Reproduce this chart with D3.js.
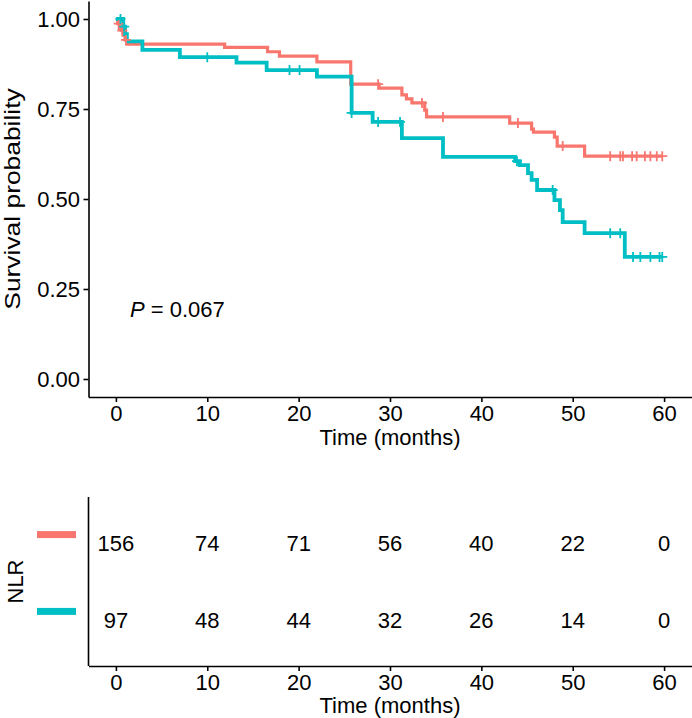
<!DOCTYPE html>
<html>
<head>
<meta charset="utf-8">
<script src="https://cdn.jsdelivr.net/npm/d3@7"></script>
<style>
  html, body { margin: 0; padding: 0; background: #fff; }
  svg { display: block; }
  text { font-family: "Liberation Sans", Arial, sans-serif; fill: #000; }
</style>
</head>
<body>
<svg id="chart" width="692" height="718"></svg>
<script>
// ---- data ----
const groups = ["high", "low"];
const groupColors = ["#F8766D", "#00BFC4"];

// Kaplan-Meier step points [time (months), survival]
const highSteps = [
  [0, 1.0], [0.2, 0.987], [0.4, 0.974], [0.6, 0.968], [0.8, 0.955], [1.0, 0.942], [1.2, 0.930],
  [11.9, 0.921], [16.6, 0.909], [17.9, 0.897], [22.0, 0.881], [25.7, 0.819],
  [28.8, 0.808], [31.3, 0.789], [31.8, 0.778], [32.4, 0.767], [33.8, 0.747], [34.0, 0.728],
  [43.1, 0.711], [45.5, 0.694], [45.7, 0.686], [48.0, 0.672], [48.3, 0.647], [51.3, 0.619]
];
const highEnd = 59.8;
const highCensor = [0.3, 0.7, 1.1, 28.7, 33.5, 35.8, 44.0, 48.9,
  54.1, 55.2, 55.5, 56.5, 57.0, 57.9, 58.5, 59.2, 59.8];

const lowSteps = [
  [0, 1.0], [0.8, 0.979], [1.0, 0.958], [1.2, 0.938], [2.9, 0.914], [7.0, 0.894],
  [13.2, 0.879], [16.5, 0.858], [22.0, 0.840], [25.8, 0.739], [28.1, 0.714],
  [31.3, 0.669], [35.8, 0.617], [43.7, 0.605], [44.2, 0.594], [45.1, 0.572],
  [45.5, 0.553], [46.1, 0.525], [48.0, 0.497], [48.6, 0.469], [48.9, 0.436],
  [51.3, 0.405], [55.7, 0.339]
];
const lowEnd = 59.8;
const lowCensor = [0.5, 0.9, 10.0, 19.0, 20.1, 25.8, 28.7, 31.1, 43.9, 47.8,
  54.1, 55.2, 56.6, 57.4, 58.5, 59.5, 59.8];

const timeTicks = [0, 10, 20, 30, 40, 50, 60];
const survTicks = [0, 0.25, 0.5, 0.75, 1.0];
const riskHigh = [156, 74, 71, 56, 40, 22, 0];
const riskLow = [97, 48, 44, 32, 26, 14, 0];
const pText = "0.067";

// ---- layout ----
const svg = d3.select("#chart");
const FS = 22;      // tick labels, numbers, titles
const FONT = '"Liberation Sans", Arial, sans-serif';
const x = d3.scaleLinear().domain([-3, 63]).range([88.5, 691.5]);
const y = d3.scaleLinear().domain([-0.05, 1.05]).range([397, 1]);

function survAt(steps, t) {
  let s = steps[0][1];
  for (const p of steps) { if (p[0] <= t) s = p[1]; }
  return s;
}
function styleAxis(g) {
  g.selectAll("path, line").attr("stroke", "#000").attr("stroke-width", 1.6);
  g.selectAll("text").attr("font-size", FS).attr("fill", "#000").style("font-family", FONT);
}

// axes top
const gy = svg.append("g").attr("transform", "translate(88.5,0)")
  .call(d3.axisLeft(y).tickValues(survTicks).tickFormat(d3.format(".2f")).tickSize(5).tickSizeOuter(0).tickPadding(3.5));
const gx = svg.append("g").attr("transform", "translate(0,397)")
  .call(d3.axisBottom(x).tickValues(timeTicks).tickSize(5).tickSizeOuter(0).tickPadding(3));
styleAxis(gx); styleAxis(gy);

svg.append("text").attr("x", x(30)).attr("y", 445).attr("text-anchor", "middle")
  .attr("font-size", FS).text("Time (months)");
svg.append("text").attr("transform", "translate(20,199) rotate(-90) scale(1.2,1)").attr("text-anchor", "middle")
  .attr("font-size", FS).text("Survival probability");

// curves
const line = d3.line().x(d => x(d[0])).y(d => y(d[1])).curve(d3.curveStepAfter);
const series = [
  { steps: highSteps, end: highEnd, censor: highCensor, color: groupColors[0], w: 3.2 },
  { steps: lowSteps, end: lowEnd, censor: lowCensor, color: groupColors[1], w: 3.8 }
];
series.forEach(s => {
  const pts = s.steps.concat([[s.end, s.steps[s.steps.length - 1][1]]]);
  svg.append("path").attr("d", line(pts)).attr("fill", "none")
    .attr("stroke", s.color).attr("stroke-width", s.w);
});
series.forEach(s => {
  svg.append("g").selectAll("path").data(s.censor).join("path")
    .attr("transform", t => `translate(${x(t)},${y(survAt(s.steps, t))})`)
    .attr("d", "M-5,0H5M0,-5V5")
    .attr("stroke", s.color).attr("stroke-width", 1.8).attr("fill", "none");
});

// p value
const pt = svg.append("text").attr("x", 130).attr("y", 317).attr("font-size", FS);
pt.append("tspan").attr("font-style", "italic").text("P");
pt.append("tspan").text(" = " + pText);

// ---- risk table ----
const T = 497, B = 666;
const ry = d3.scaleLinear().domain([0.4, 2.6]).range([T, B]);
svg.append("line").attr("x1", 88.5).attr("x2", 88.5).attr("y1", T).attr("y2", B)
  .attr("stroke", "#000").attr("stroke-width", 1.6);
const gx2 = svg.append("g").attr("transform", `translate(0,${B})`)
  .call(d3.axisBottom(x).tickValues(timeTicks).tickSize(5).tickSizeOuter(0).tickPadding(3));
styleAxis(gx2);
svg.append("text").attr("x", x(30)).attr("y", B + 47).attr("text-anchor", "middle")
  .attr("font-size", FS).text("Time (months)");
svg.append("text").attr("transform", `translate(23,${(T + B) / 2}) rotate(-90)`).attr("text-anchor", "middle")
  .attr("font-size", FS).text("NLR");

const rows = [riskHigh, riskLow];
rows.forEach((vals, i) => {
  const yy = ry(i + 1);
  svg.append("g").selectAll("text").data(vals).join("text")
    .attr("x", (d, j) => x(timeTicks[j])).attr("y", yy).attr("dy", "0.35em")
    .attr("text-anchor", "middle").attr("font-size", FS).text(d => d);
  svg.append("rect").attr("x", 37).attr("y", yy - 12).attr("width", 39).attr("height", 7)
    .attr("fill", groupColors[i]);
});
</script>
</body>
</html>
